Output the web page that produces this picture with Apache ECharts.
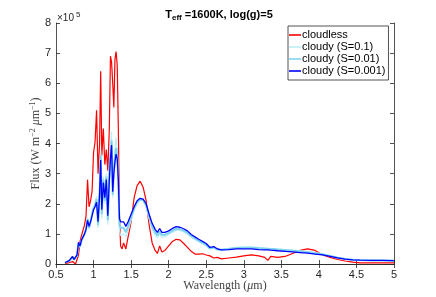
<!DOCTYPE html>
<html><head><meta charset="utf-8">
<script src="https://cdn.jsdelivr.net/npm/echarts@6/dist/echarts.min.js"></script>
<style>html,body{margin:0;padding:0;background:#fff}#c{width:436px;height:297px}</style>
</head><body><div id="c"></div>
<script>
const wavelength = [0.62,0.65,0.68,0.70,0.72,0.74,0.76,0.78,0.80,0.82,0.84,0.86,0.88,0.90,0.92,0.94,0.96,0.98,1.00,1.02,1.04,1.06,1.08,1.095,1.11,1.13,1.15,1.17,1.19,1.21,1.225,1.24,1.255,1.27,1.285,1.30,1.315,1.33,1.345,1.36,1.38,1.40,1.43,1.46,1.50,1.54,1.58,1.62,1.66,1.70,1.74,1.78,1.82,1.85,1.88,1.91,1.95,2.00,2.05,2.10,2.15,2.20,2.25,2.30,2.35,2.40,2.45,2.50,2.55,2.60,2.65,2.70,2.80,2.90,3.00,3.10,3.20,3.28,3.32,3.36,3.45,3.55,3.65,3.75,3.85,3.95,4.05,4.15,4.25,4.35,4.45,4.55,4.70,4.85,5.00];
// flux in units of 1e5 W m^-2 um^-1
const cloudless = [0.02,0.03,0.05,0.04,0.08,0.05,0.0,0.02,0.3,0.75,0.95,1.0,1.3,1.6,2.8,1.9,2.1,2.4,3.7,4.05,5.1,3.0,4.0,6.4,3.6,4.5,3.3,3.8,3.1,4.5,6.9,6.7,6.0,5.2,6.8,7.05,6.6,4.5,1.6,0.6,0.5,0.7,0.5,0.9,1.4,2.2,2.6,2.75,2.55,2.1,1.3,0.7,0.45,0.35,0.6,0.4,0.45,0.6,0.75,0.82,0.8,0.68,0.55,0.42,0.33,0.33,0.34,0.3,0.27,0.2,0.22,0.17,0.2,0.23,0.27,0.3,0.27,0.22,0.12,0.25,0.22,0.25,0.35,0.45,0.5,0.45,0.3,0.22,0.15,0.1,0.06,0.04,0.04,0.04,0.04];
const cloudyS01 = [0.05,0.08,0.12,0.14,0.23,0.13,0.08,0.27,0.68,0.55,0.76,0.82,1.0,1.15,1.55,1.15,1.4,1.7,1.9,2.0,2.25,1.2,2.4,3.75,1.5,2.9,2.0,3.0,1.3,3.0,3.9,4.4,2.2,3.3,3.8,4.2,3.8,2.6,1.1,0.95,0.95,1.0,0.9,1.1,1.45,1.78,2.0,2.12,2.1,1.9,1.5,1.15,0.95,0.87,0.98,0.88,0.9,0.97,1.05,1.12,1.11,1.06,0.99,0.89,0.81,0.74,0.68,0.61,0.5,0.54,0.48,0.48,0.52,0.55,0.57,0.57,0.55,0.54,0.53,0.52,0.5,0.48,0.46,0.44,0.41,0.38,0.34,0.28,0.22,0.17,0.15,0.13,0.12,0.12,0.11];
const cloudyS001 = [0.05,0.08,0.12,0.14,0.24,0.14,0.09,0.28,0.7,0.58,0.78,0.84,1.0,1.15,1.5,1.2,1.4,1.65,1.85,1.95,2.15,1.3,2.35,3.6,1.65,2.8,2.1,2.9,1.45,2.9,3.7,4.1,2.3,3.1,3.55,3.85,3.6,2.7,1.3,1.2,1.15,1.2,1.05,1.25,1.55,1.85,2.05,2.15,2.12,1.95,1.58,1.25,1.05,0.95,1.08,0.96,0.97,1.03,1.11,1.17,1.16,1.11,1.04,0.93,0.85,0.77,0.7,0.63,0.51,0.55,0.48,0.47,0.5,0.53,0.54,0.54,0.52,0.51,0.5,0.5,0.48,0.46,0.44,0.42,0.39,0.36,0.32,0.27,0.21,0.17,0.14,0.13,0.12,0.12,0.11];
const cloudyS0001 = [0.05,0.08,0.12,0.15,0.25,0.15,0.1,0.3,0.72,0.6,0.8,0.85,1.0,1.15,1.45,1.25,1.4,1.6,1.8,1.9,2.05,1.4,2.3,3.45,1.8,2.7,2.2,2.8,1.6,2.8,3.5,3.95,2.4,3.0,3.4,3.65,3.5,2.8,1.5,1.4,1.35,1.4,1.25,1.4,1.65,1.9,2.1,2.18,2.15,2.0,1.65,1.35,1.15,1.05,1.18,1.05,1.05,1.1,1.18,1.24,1.22,1.17,1.1,0.98,0.9,0.82,0.75,0.68,0.55,0.58,0.5,0.47,0.48,0.5,0.5,0.5,0.48,0.47,0.47,0.46,0.44,0.42,0.4,0.38,0.36,0.33,0.3,0.25,0.2,0.16,0.14,0.13,0.12,0.12,0.11];
const seriesNames = ['cloudless','cloudy (S=0.1)','cloudy (S=0.01)','cloudy (S=0.001)'];
const xTicks = [0.5,1,1.5,2,2.5,3,3.5,4,4.5,5];
const yTicks = [0,1,2,3,4,5,6,7,8];

const pair = arr => wavelength.map((w,i)=>[w,arr[i]]);
const styles = [
  {color:'#ff0000', width:1.2},
  {color:'#bdeef7', width:1.2},
  {color:'#7fd3f0', width:2},
  {color:'#0000ff', width:1.3}
];
const datasets = [cloudless, cloudyS01, cloudyS001, cloudyS0001];
const axCol = '#262626';
const sans = 'Liberation Sans, Arial, sans-serif';
const serif = 'Liberation Serif, DejaVu Serif, serif';

const chart = echarts.init(document.getElementById('c'), null, {renderer:'canvas'});
const xBase = {type:'value', min:xTicks[0], max:xTicks[xTicks.length-1], interval:0.5,
  splitLine:{show:false}, axisLine:{lineStyle:{color:axCol,width:0.8}},
  axisTick:{inside:true,length:4,lineStyle:{color:axCol,width:0.8}}};
const yBase = {type:'value', min:yTicks[0], max:yTicks[yTicks.length-1], interval:1,
  splitLine:{show:false}, axisLine:{show:true,lineStyle:{color:axCol,width:0.8}},
  axisTick:{show:true,inside:true,length:4,lineStyle:{color:axCol,width:0.8}}};
chart.setOption({
  animation:false,
  backgroundColor:'#fff',
  title:{
    text:'{b|T}{s|eff}{b| =1600K, log(g)=5}',
    left:214, top:3, textAlign:'center',
    textStyle:{rich:{
      b:{fontFamily:sans,fontWeight:'bold',fontSize:11,color:'#000'},
      s:{fontFamily:sans,fontWeight:'bold',fontSize:8,color:'#000',padding:[6,0,0,0]}
    }}
  },
  graphic:[{type:'text', left:57, top:11, style:{
    text:'×10{s|5}', font:'10px '+sans, fill:axCol,
    rich:{s:{fontSize:8,fontFamily:sans,fill:axCol,padding:[0,0,6,2]}}}}],
  grid:{left:56,right:42,top:23,bottom:33},
  legend:{
    orient:'vertical', left:288, top:26, itemGap:0, itemWidth:12, itemHeight:1.6, icon:'rect',
    padding:[3,3,3,1], borderColor:axCol, borderWidth:0.8, backgroundColor:'#fff',
    textStyle:{fontFamily:sans,fontSize:11,lineHeight:12,color:'#000',padding:[0,0,0,-4]},
    data:seriesNames
  },
  xAxis:[
    Object.assign({}, xBase, {position:'bottom',
      axisLabel:{color:axCol,fontFamily:sans,fontSize:11,margin:5},
      name:'Wavelength ({it|μ}m)', nameLocation:'middle', nameGap:16, nameMoveOverlap:false,
      nameTextStyle:{fontFamily:serif,fontSize:12,color:'#444',
        rich:{it:{fontFamily:serif,fontStyle:'italic',fontSize:12,color:'#444'}}}}),
    Object.assign({}, xBase, {position:'top', axisLabel:{show:false}})
  ],
  yAxis:[
    Object.assign({}, yBase, {position:'left',
      axisLabel:{color:axCol,fontFamily:sans,fontSize:11,margin:5},
      name:'Flux (W m{sup|−2} {it|μ}m{sup|−1})', nameLocation:'middle', nameGap:13, nameRotate:90,
      nameMoveOverlap:false,
      nameTextStyle:{fontFamily:serif,fontSize:12,color:'#444',
        rich:{sup:{fontFamily:serif,fontSize:8,color:'#444',padding:[0,0,6,0]},
              it:{fontFamily:serif,fontStyle:'italic',fontSize:12,color:'#444'}}}}),
    Object.assign({}, yBase, {position:'right', axisLabel:{show:false}})
  ],
  series: datasets.map((d,i)=>({
    name:seriesNames[i], type:'line', data:pair(d), showSymbol:false, symbol:'none',
    xAxisIndex:0, yAxisIndex:0,
    lineStyle:{color:styles[i].color,width:styles[i].width},
    itemStyle:{color:styles[i].color}
  }))
});
</script></body></html>
